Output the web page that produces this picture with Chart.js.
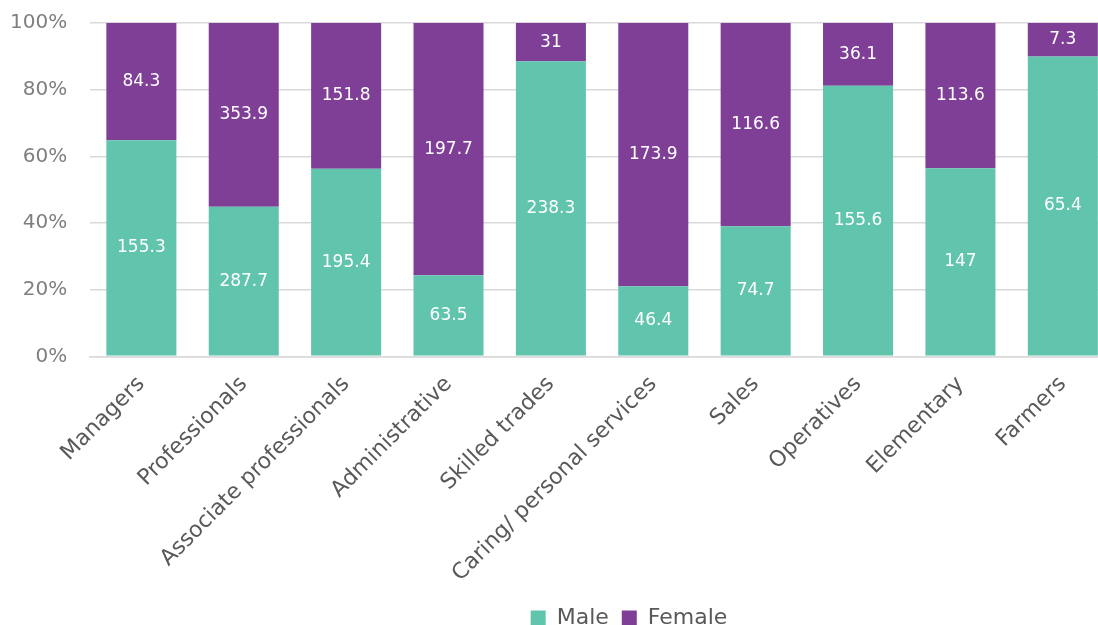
<!DOCTYPE html>
<html>
<head>
<meta charset="utf-8">
<script src="https://cdn.jsdelivr.net/npm/chart.js@4.4.1/dist/chart.umd.min.js"></script>
<style>
  html, body { margin: 0; padding: 0; background: #fff; overflow: hidden; }
  #wrap { width: 1114px; height: 639px; }
</style>
</head>
<body>
<div id="wrap"><canvas id="chart"></canvas></div>
<script>
// ---------------- DATA ----------------
const categories = ["Managers", "Professionals", "Associate professionals", "Administrative",
  "Skilled trades", "Caring/ personal services", "Sales", "Operatives", "Elementary", "Farmers"];
const male = [155.3, 287.7, 195.4, 63.5, 238.3, 46.4, 74.7, 155.6, 147, 65.4];
const female = [84.3, 353.9, 151.8, 197.7, 31, 173.9, 116.6, 36.1, 113.6, 7.3];
const yTicks = [0, 20, 40, 60, 80, 100];

const FONT = "'DejaVu Sans', 'Open Sans', sans-serif";

// share of each category, so the stack reaches 100%
function share(arr, other) {
  return arr.map((v, i) => v / (v + other[i]) * 100);
}

// ---------------- VALUE LABELS ----------------
const valueLabels = {
  id: "valueLabels",
  afterLayout(chart) {
    // legend sits a bit right of centre in the original
    if (chart.legend) {
      chart.legend.left += 67;
      chart.legend.right += 67;
    }
  },
  afterDatasetsDraw(chart) {
    const ctx = chart.ctx;
    ctx.save();
    ctx.font = "17px " + FONT;
    ctx.fillStyle = "#ffffff";
    ctx.textAlign = "center";
    ctx.textBaseline = "middle";
    chart.data.datasets.forEach((ds, d) => {
      const meta = chart.getDatasetMeta(d);
      meta.data.forEach((bar, i) => {
        const p = bar.getCenterPoint();
        ctx.fillText(String(ds.raw[i]), p.x, p.y);
      });
    });
    ctx.restore();
  }
};

new Chart(document.getElementById("chart"), {
  type: "bar",
  data: {
    labels: categories,
    datasets: [
      { label: "Male", data: share(male, female), raw: male, backgroundColor: "#61c4ad" },
      { label: "Female", data: share(female, male), raw: female, backgroundColor: "#7f3f97" }
    ]
  },
  options: {
    responsive: true,
    maintainAspectRatio: false,
    animation: false,
    layout: { padding: { top: 23, left: 10, right: 0, bottom: 0 } },
    barPercentage: 0.684,
    categoryPercentage: 1,
    scales: {
      x: {
        stacked: true,
        grid: { display: false },
        border: { color: "#d9d9d9", width: 1.5 },
        ticks: {
          color: "#595959",
          padding: 7,
          font: { family: FONT, size: 22 },
          maxRotation: 45,
          minRotation: 45,
          autoSkip: false
        }
      },
      y: {
        stacked: true,
        min: 0,
        max: 100,
        afterBuildTicks: axis => { axis.ticks = yTicks.map(v => ({ value: v })); },
        // invisible tick marks keep the gap between labels and bars
        grid: { color: "#d9d9d9", lineWidth: 1.5, drawTicks: true, tickLength: 23, tickColor: "rgba(0,0,0,0)" },
        border: { display: false },
        ticks: {
          color: "#7f7f7f",
          padding: 0,
          font: { family: FONT, size: 20 },
          callback: v => v + "%"
        }
      }
    },
    plugins: {
      tooltip: { enabled: false },
      legend: {
        position: "bottom",
        labels: {
          color: "#595959",
          font: { family: FONT, size: 22 },
          boxWidth: 15,
          boxHeight: 15,
          padding: 13
        }
      }
    }
  },
  plugins: [valueLabels]
});
</script>
</body>
</html>
